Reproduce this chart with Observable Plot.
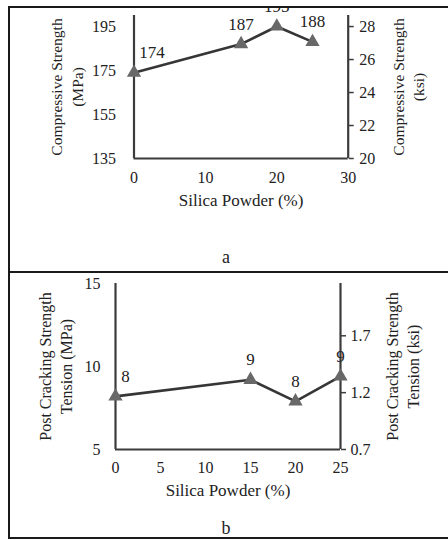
<!DOCTYPE html>
<html><head><meta charset="utf-8">
<script src="https://cdn.jsdelivr.net/npm/d3@7"></script>
<script src="https://cdn.jsdelivr.net/npm/@observablehq/plot@0.6"></script>
<style>
html,body{margin:0;padding:0;background:#fff;overflow:hidden;width:448px;height:540px;}
#wrap{position:relative;width:448px;height:540px;font-family:"Liberation Serif","Times New Roman",serif;}
.panel{position:absolute;left:0;width:448px;}
#p1{top:0;height:270px;}
#p2{top:270px;height:270px;}
#mask{position:absolute;left:0;top:0;width:448px;height:6px;background:#fff;}
#frame{position:absolute;left:8px;top:6px;width:460px;height:533px;border:2px solid #1a1a1a;box-sizing:border-box;}
#divider{position:absolute;left:8px;top:271px;width:460px;height:2px;background:#1a1a1a;}
</style></head>
<body>
<div id="wrap">
  <div class="panel" id="p1"></div>
  <div class="panel" id="p2"></div>
  <div id="mask"></div>
  <div id="frame"></div>
  <div id="divider"></div>
</div>
<script>
// ---- Data ----
const topX = [0, 15, 20, 25];
const topMPa = [174, 187, 195, 188];
const topLabels = ["174", "187", "195", "188"];
const topXTicks = [0, 10, 20, 30];
const topYTicks = [135, 155, 175, 195];
const topKsiTicks = [20, 22, 24, 26, 28];
const topMPaDomain = [135, 200];
const topKsiDomain = [20, 28.67];

const botX = [0, 15, 20, 25];
const botMPa = [8.2, 9.2, 7.9, 9.4];
const botLabels = ["8", "9", "8", "9"];
const botXTicks = [0, 5, 10, 15, 20, 25];
const botYTicks = [5, 10, 15];
const botKsiTicks = [0.7, 1.2, 1.7];
const botMPaDomain = [5, 15];
const botKsiDomain = [0.7, 2.16];

const FONT = '"Liberation Serif","Times New Roman",serif';
const AX = "#3c3c3c";

function panel(cfg) {
  const data = cfg.xs.map((x, i) => ({x, y: cfg.ys[i], label: cfg.labels[i]}));
  const toM = k => cfg.mDom[0] + (k - cfg.kDom[0]) / (cfg.kDom[1] - cfg.kDom[0]) * (cfg.mDom[1] - cfg.mDom[0]);
  const toK = m => cfg.kDom[0] + (m - cfg.mDom[0]) / (cfg.mDom[1] - cfg.mDom[0]) * (cfg.kDom[1] - cfg.kDom[0]);
  return Plot.plot({
    width: 448, height: 270,
    marginLeft: cfg.ml, marginRight: cfg.mr, marginTop: cfg.mt, marginBottom: cfg.mb,
    style: {fontFamily: FONT, fontSize: "16px", color: "#222", background: "transparent", overflow: "visible"},
    x: {domain: cfg.xDom},
    y: {domain: cfg.mDom},
    marks: [
      Plot.ruleX([cfg.xDom[0]], {stroke: AX, strokeWidth: 2.2}),
      Plot.ruleX([cfg.xDom[1]], {stroke: AX, strokeWidth: 2.2}),
      Plot.ruleY([cfg.mDom[0]], {stroke: AX, strokeWidth: 2.2}),
      Plot.axisY({anchor: "left", ticks: cfg.yTicks, tickSize: 0, tickPadding: cfg.ltp, label: null, fill: "#222"}),
      Plot.axisY({anchor: "right", ticks: cfg.kTicks.map(toM), tickFormat: v => d3.format(cfg.kFmt)(toK(v)), tickSize: 5, tickPadding: cfg.rtp, stroke: AX, strokeWidth: 1.5, label: null, fill: "#222"}),
      Plot.axisX({ticks: cfg.xTicks, tickSize: 0, tickPadding: cfg.xtp, label: null, fill: "#222"}),
      Plot.line(data, {x: "x", y: "y", stroke: "#363636", strokeWidth: 2.6}),
      Plot.dot(data, {x: "x", y: "y", symbol: "triangle", r: 5.3, fill: "#686868"}),
      Plot.text(data, {filter: d => d.x === 0, x: "x", y: "y", text: "label", dx: cfg.firstDx, dy: -20, fontSize: 17, fill: "#222"}),
      Plot.text(data, {filter: d => d.x !== 0, x: "x", y: "y", text: "label", dy: -20, fontSize: 17, fill: "#222"}),
      Plot.text([cfg.leftLabel], {frameAnchor: "left", textAnchor: "middle", lineAnchor: "middle", text: d => d, rotate: -90, dx: cfg.llDx, lineHeight: 1.3, fontSize: cfg.ylFs, fill: "#222"}),
      Plot.text([cfg.rightLabel], {frameAnchor: "right", textAnchor: "middle", lineAnchor: "middle", text: d => d, rotate: -90, dx: cfg.rlDx, lineHeight: 1.3, fontSize: cfg.ylFs, fill: "#222"}),
      Plot.text(["Silica Powder (%)"], {frameAnchor: "bottom", textAnchor: "middle", lineAnchor: "middle", text: d => d, dy: cfg.xlDy, fontSize: 17, fill: "#222"}),
      Plot.text([cfg.letter], {frameAnchor: "bottom", textAnchor: "middle", lineAnchor: "middle", text: d => d, dx: cfg.letDx, dy: cfg.letDy, fontSize: 18, fill: "#222"})
    ]
  });
}

document.getElementById("p1").appendChild(panel({
  xs: topX, ys: topMPa, labels: topLabels, xTicks: topXTicks, yTicks: topYTicks, kTicks: topKsiTicks,
  mDom: topMPaDomain, kDom: topKsiDomain, xDom: [0, 30], kFmt: ".0f",
  ml: 133.5, mr: 100.3, mt: 15, mb: 112,
  ltp: 18, rtp: 6, xtp: 13, firstDx: 18,
  leftLabel: "Compressive Strength\n(MPa)", rightLabel: "Compressive Strength\n(ksi)", ylFs: 15.5,
  llDx: -68, rlDx: 59, xlDy: 42, letter: "a", letDx: -15, letDy: 99
}));

document.getElementById("p2").appendChild(panel({
  xs: botX, ys: botMPa, labels: botLabels, xTicks: botXTicks, yTicks: botYTicks, kTicks: botKsiTicks,
  mDom: botMPaDomain, kDom: botKsiDomain, xDom: [0, 25], kFmt: ".1f",
  ml: 115, mr: 108, mt: 13, mb: 91,
  ltp: 15, rtp: 5, xtp: 12, firstDx: 10,
  leftLabel: "Post Cracking Strength\nTension (MPa)", rightLabel: "Post Cracking Strength\nTension (ksi)", ylFs: 16,
  llDx: -61, rlDx: 61, xlDy: 41, letter: "b", letDx: -2, letDy: 79
}));
</script>
</body></html>
